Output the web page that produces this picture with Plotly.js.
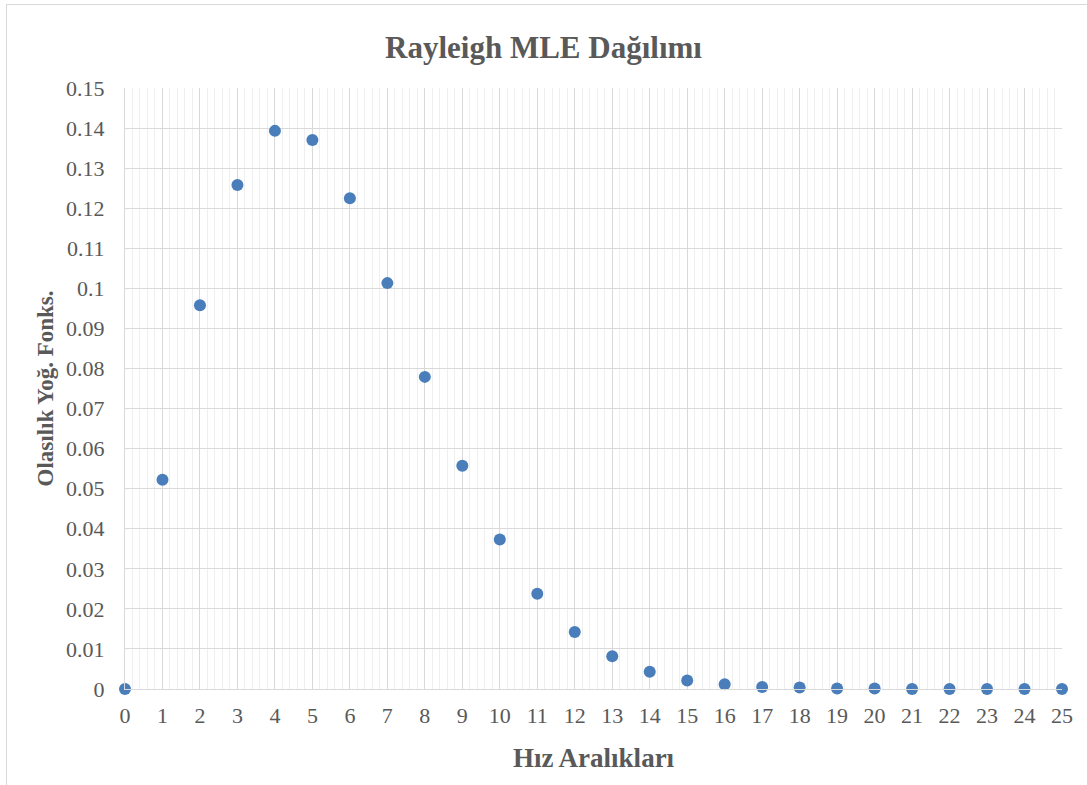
<!DOCTYPE html>
<html>
<head>
<meta charset="utf-8">
<script src="https://cdn.plot.ly/plotly-3.0.1.min.js"></script>
<style>
html,body{margin:0;padding:0;background:#fff;}
#wrap{position:relative;width:1087px;height:785px;}
#chart{position:absolute;left:0;top:0;width:1087px;height:785px;}
#frame{position:absolute;left:6px;top:4px;width:1090px;height:790px;border:1px solid #d9d9d9;pointer-events:none;}
</style>
</head>
<body>
<div id="wrap"><div id="chart"></div><div id="frame"></div></div>
<script>
var hizAraliklari = [0,1,2,3,4,5,6,7,8,9,10,11,12,13,14,15,16,17,18,19,20,21,22,23,24,25];
var olasilik = [0,0.0522,0.0958,0.1258,0.1393,0.1370,0.1225,0.1013,0.0779,0.0557,0.0373,0.0238,0.0142,0.0082,0.0043,0.0021,0.0012,0.0005,0.0004,0.0001,0.0001,0,0,0,0,0];
var yTicks = [0,0.01,0.02,0.03,0.04,0.05,0.06,0.07,0.08,0.09,0.1,0.11,0.12,0.13,0.14,0.15];
var yTickText = ['0','0.01','0.02','0.03','0.04','0.05','0.06','0.07','0.08','0.09','0.1','0.11','0.12','0.13','0.14','0.15'];

var serif = '"Liberation Serif", "Times New Roman", serif';
var trace = {
  x: hizAraliklari, y: olasilik, type: 'scatter', mode: 'markers',
  marker: {color: '#4a7ebb', size: 12}, cliponaxis: false, hoverinfo: 'x+y'
};
var layout = {
  width: 1087, height: 785,
  margin: {l: 125, r: 25, t: 88, b: 96},
  paper_bgcolor: '#fff', plot_bgcolor: '#fff',
  showlegend: false,
  title: {text: '<b>Rayleigh MLE Dağılımı</b>', x: 0.5, xanchor: 'center', y: 0.94, yanchor: 'middle',
          font: {family: serif, size: 31, color: '#595959'}},
  xaxis: {
    range: [0, 25], tickmode: 'linear', tick0: 0, dtick: 1,
    showgrid: true, gridcolor: '#d9d9d9', gridwidth: 1,
    minor: {dtick: 0.2, showgrid: true, gridcolor: '#efefef', gridwidth: 1},
    zeroline: false, showline: true, linecolor: '#d9d9d9', linewidth: 1, mirror: false,
    ticks: '', ticklabelstandoff: 7,
    tickfont: {family: serif, size: 22, color: '#595959'},
    title: {text: '<b>Hız Aralıkları</b>', font: {family: serif, size: 27, color: '#595959'}, standoff: 20}
  },
  yaxis: {
    range: [0, 0.15], tickmode: 'array', tickvals: yTicks, ticktext: yTickText,
    showgrid: true, gridcolor: '#d9d9d9', gridwidth: 1,
    zeroline: false, showline: true, linecolor: '#d9d9d9', linewidth: 1,
    ticks: '', ticklabelstandoff: 15,
    tickfont: {family: serif, size: 22, color: '#595959'},
    title: {text: '<b>Olasılık Yoğ. Fonks.</b>', font: {family: serif, size: 23, color: '#595959'}, standoff: 6}
  }
};
Plotly.newPlot('chart', [trace], layout, {displayModeBar: false, staticPlot: true});
</script>
</body>
</html>
